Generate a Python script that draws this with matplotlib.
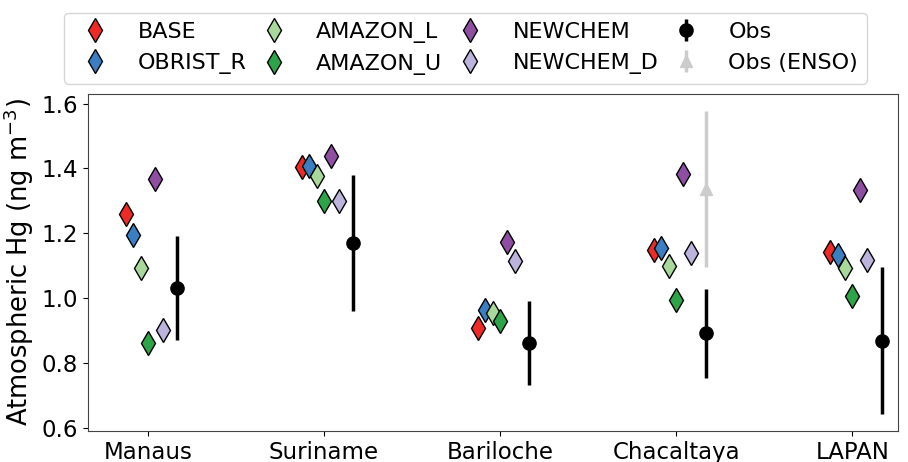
import numpy as np
import matplotlib
matplotlib.use("Agg")
import matplotlib.pyplot as plt

sites = ["Manaus", "Suriname", "Bariloche", "Chacaltaya", "LAPAN"]

# model runs (ng m-3)
base = [1.26, 1.405, 0.907, 1.147, 1.141]
obrist_r = [1.195, 1.407, 0.964, 1.153, 1.134]
amazon_l = [1.092, 1.375, 0.953, 1.098, 1.092]
amazon_u = [0.862, 1.300, 0.930, 0.995, 1.005]
newchem = [1.367, 1.439, 1.172, 1.382, 1.333]
newchem_d = [0.903, 1.300, 1.114, 1.138, 1.118]

# observations
obs = [1.031, 1.171, 0.862, 0.891, 0.869]
obs_err = [0.16, 0.21, 0.13, 0.138, 0.227]
enso_site = "Chacaltaya"
enso = 1.336
enso_err = 0.24

runs = [
    ("BASE", base, "#ee2a26"),
    ("OBRIST_R", obrist_r, "#3a7fc1"),
    ("AMAZON_L", amazon_l, "#a8d89a"),
    ("AMAZON_U", amazon_u, "#2ca447"),
    ("NEWCHEM", newchem, "#8e4fa3"),
    ("NEWCHEM_D", newchem_d, "#bcb4dc"),
]

plt.rcParams["font.family"] = "DejaVu Sans"
plt.rcParams["font.size"] = 16.5

fig = plt.figure(figsize=(9.08, 4.62), dpi=100)
ax = fig.add_axes([0.097, 0.067, 0.892, 0.73])

x = np.arange(len(sites))
dx = 1.0 / 24

for i, (name, vals, col) in enumerate(runs):
    ax.plot(x + (i - 3) * dx, vals, "d", color=col, markersize=12.5,
            markeredgecolor="black", markeredgewidth=1.0, label=name, linestyle="none")

ax.errorbar(x + 4 * dx, obs, yerr=obs_err, fmt="o", color="black",
            markersize=9.5, elinewidth=2.5, capsize=0, label="Obs")
xe = sites.index(enso_site)
ax.errorbar([xe + 4 * dx], [enso], yerr=[enso_err], fmt="^", color="#cccccc",
            markersize=8.5, elinewidth=2.5, capsize=0, label="Obs (ENSO)")

ax.set_xticks(x)
ax.set_xticklabels(sites)
ax.set_xlim(-0.34, 4.26)
ax.set_ylim(0.59, 1.63)
ax.set_yticks([0.6, 0.8, 1.0, 1.2, 1.4, 1.6])
ax.set_ylabel("Atmospheric Hg (ng m$^{-3}$)", fontsize=18.5, labelpad=4)
for s in ax.spines.values():
    s.set_color("#444444")

ax.legend(ncol=4, loc="lower center", bbox_to_anchor=(0.466, 1.0),
          handlelength=2.0, handletextpad=0.9, columnspacing=0.25,
          borderpad=0.4, borderaxespad=0.45, fontsize=16)

fig.savefig("out.png", dpi=100)
